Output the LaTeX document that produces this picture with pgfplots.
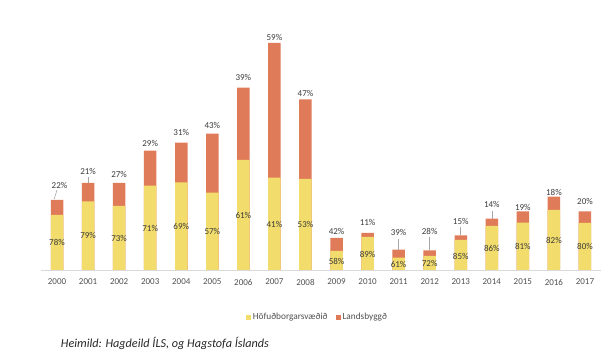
\documentclass[border=0pt]{standalone}
\usepackage{pgfplots}
\pgfplotsset{compat=1.18}
\usepackage{pgfplotstable}
\usepackage{fontspec}
\setmainfont{Carlito}
\definecolor{yel}{HTML}{F2DC6B}
\definecolor{ora}{HTML}{E07B5A}
\definecolor{txt}{HTML}{3A3A3A}
\definecolor{tickc}{HTML}{505050}
\definecolor{axisc}{HTML}{D9D9D9}
\definecolor{leadc}{HTML}{A6A6A6}

\pgfplotstableread{
x yel tot py po ly lo lx
0 55 70 78 22 27.5 85 0.08
1 68.7 87 79 21 34.4 99 1
2 64 87 73 27 32 95.3 2
3 84.3 119.3 71 29 42 127 3
4 87.7 127.3 69 31 43.7 137.3 4
5 77.3 136.3 57 43 38.3 144.3 5
6 110 182.3 61 39 55 193 6
7 92.3 227 41 59 46 233 7
8 91 170.7 53 47 45.3 176.3 8
9 19 32 58 42 8.5 39 9
10 33 37 89 11 15.7 47.3 10
11 12.3 20.3 61 39 5.5 37.3 11
12 14 19.7 72 28 6.5 39 12
13 30 34.7 85 15 14 49 13
14 44 51.3 86 14 21.3 65.3 14
15 47.3 58.7 81 19 23.3 62.3 15
16 60 73.3 82 18 29.3 77.7 16
17 47 58.7 80 20 23.3 68.3 17
}\data

\begin{document}
\begin{tikzpicture}
\useasboundingbox (0pt,0pt) rectangle (606pt,359pt);
\begin{axis}[
  at={(41.5pt,89pt)}, anchor=south west,
  scale only axis, width=559pt, height=260pt,
  xmin=-0.5, xmax=17.5, ymin=0, ymax=260,
  axis x line*=bottom, axis y line=none,
  x axis line style={draw=axisc, line width=0.9pt},
  xtick={0,...,17},
  xticklabels={2000,2001,2002,2003,2004,2005,2006,2007,2008,2009,2010,2011,2012,2013,2014,2015,2016,2017},
  major tick length=0pt,
  xticklabel style={anchor=center, yshift=-12pt, font=\fontsize{9}{10}\selectfont, text=tickc},
  clip=false,
  /pgf/number format/assume math mode=true,
  legend style={at={(0.4937,-0.1827)}, anchor=center, draw=none, fill=none,
    legend columns=2, font=\fontsize{9.3}{11}\selectfont, text=tickc,
    /tikz/every even column/.append style={column sep=6pt},
    inner sep=0pt},
  legend cell align=left,
  legend image code/.code={\fill[#1] (0pt,-2.5pt) rectangle (5pt,2.5pt);},
]
\addlegendimage{fill=yel, draw=none}
\addlegendentry{Höfuðborgarsvæðið}
\addlegendimage{fill=ora, draw=none}
\addlegendentry{Landsbyggð}

\addplot[ybar, bar width=12.5pt, bar shift=0pt, fill=ora, draw=none, forget plot] table[x=x, y=tot]{\data};
\addplot[ybar, bar width=12.5pt, bar shift=0pt, fill=yel, draw=none, forget plot] table[x=x, y=yel]{\data};

% leader lines
\addplot[leadc, line width=0.6pt, forget plot] coordinates {(0.0,80) (-0.09,71)};
\addplot[leadc, line width=0.6pt, forget plot] coordinates {(1,87) (1,93.3)};
\addplot[leadc, line width=0.6pt, forget plot] coordinates {(11,20.3) (11,30.7)};
\addplot[leadc, line width=0.6pt, forget plot] coordinates {(12,19.7) (12,32.7)};
\addplot[leadc, line width=0.6pt, forget plot] coordinates {(13,34.7) (13,42.7)};
\addplot[leadc, line width=0.6pt, forget plot] coordinates {(14,51.3) (14,58.7)};

% labels
\addplot[only marks, mark=*, mark size=0pt, mark options={draw=none, fill=none}, forget plot,
  point meta=explicit,
  nodes near coords={\pgfmathprintnumber[fixed,precision=0]{\pgfplotspointmeta}\%},
  nodes near coords align=center,
  every node near coord/.append style={font=\fontsize{9}{10}\selectfont, text=txt, inner sep=0pt}]
  table[x=x, y=ly, meta=py]{\data};
\addplot[only marks, mark=*, mark size=0pt, mark options={draw=none, fill=none}, forget plot,
  point meta=explicit,
  nodes near coords={\pgfmathprintnumber[fixed,precision=0]{\pgfplotspointmeta}\%},
  nodes near coords align=center,
  every node near coord/.append style={font=\fontsize{9}{10}\selectfont, text=txt, inner sep=0pt}]
  table[x=lx, y=lo, meta=po]{\data};
\end{axis}
\node[anchor=west, inner sep=0pt, font=\fontsize{12.2}{14}\selectfont\itshape, text=black!85] at (60.7pt,15.7pt) {Heimild: Hagdeild ÍLS, og Hagstofa Íslands};
\end{tikzpicture}
\end{document}
